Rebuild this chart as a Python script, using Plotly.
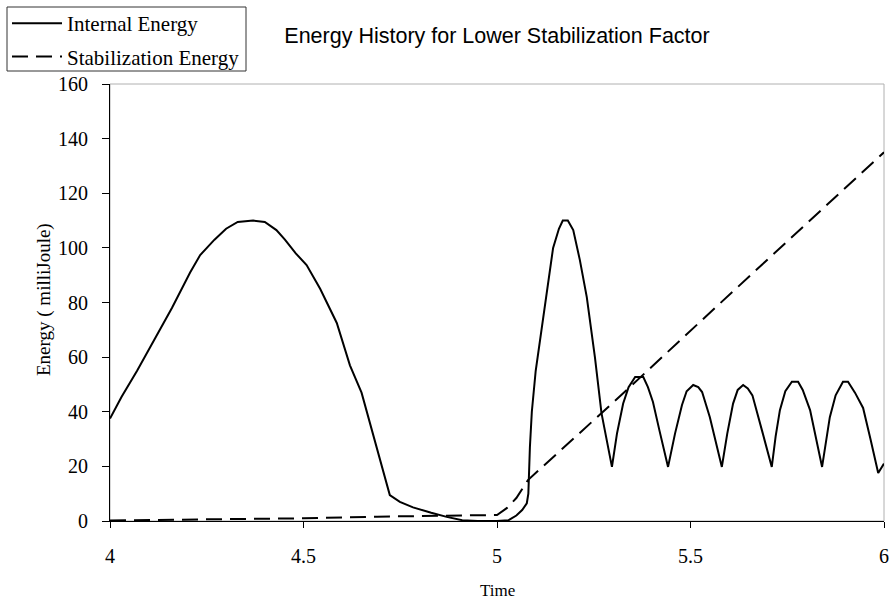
import plotly.graph_objects as go

# Internal energy (solid)
t_int = [4.00, 4.03, 4.07, 4.11, 4.16, 4.207, 4.233, 4.27, 4.30, 4.33, 4.37, 4.40,
         4.43, 4.452, 4.48, 4.508, 4.543, 4.586, 4.62, 4.65, 4.68, 4.693, 4.711,
         4.723, 4.749, 4.783, 4.83, 4.87, 4.91, 4.95, 5.00, 5.03, 5.05, 5.065,
         5.077, 5.081, 5.085, 5.09, 5.10, 5.11, 5.124, 5.145, 5.16, 5.17, 5.183,
         5.197, 5.214, 5.232, 5.253, 5.27, 5.297,
         5.31, 5.326, 5.34, 5.357, 5.378, 5.39, 5.403, 5.42, 5.442,
         5.46, 5.478, 5.49, 5.507, 5.52, 5.53, 5.55, 5.581,
         5.595, 5.61, 5.622, 5.636, 5.648, 5.66, 5.685, 5.71,
         5.72, 5.731, 5.745, 5.762, 5.778, 5.79, 5.809, 5.825, 5.84,
         5.86, 5.875, 5.894, 5.907, 5.925, 5.946, 5.965, 5.985, 6.0]
e_int = [37.5, 45.5, 55, 65, 78, 91, 97.4, 103, 107, 109.5, 110, 109.5,
         106.5, 103, 98, 93.7, 85, 72.5, 57, 47, 32, 25, 16,
         9.5, 7, 5, 3, 1.5, 0.3, 0, 0, 0.3, 2, 4,
         6.5, 10, 27, 40, 55, 65, 80, 100, 107, 110, 110,
         106.5, 95.6, 82, 60, 39.5, 19.8,
         32, 43, 49, 52.7, 52.7, 49, 43.6, 33, 19.8,
         32, 42.5, 47.5, 49.8, 49, 47.2, 38, 19.8,
         32, 43, 48, 49.8, 48.5, 46, 33, 19.8,
         31, 40.6, 47.5, 51, 51, 48, 40.6, 30, 19.8,
         38, 46, 51, 51, 47, 41.4, 30, 17.6, 21]

# Stabilization energy (dashed)
t_stab = [4.0, 4.25, 4.5, 4.69, 4.85, 5.0, 5.026, 5.05, 5.08, 5.2, 5.305, 5.568, 6.0]
e_stab = [0.2, 0.5, 1.0, 1.6, 1.9, 2.2, 4.8, 8.4, 15, 30.5, 44, 78.6, 135]

x_ticks = [4, 4.5, 5, 5.5, 6]
y_ticks = [0, 20, 40, 60, 80, 100, 120, 140, 160]

serif = "Liberation Serif, Times New Roman, serif"
sans = "Liberation Sans, Arial, sans-serif"

W, H = 890, 606
L, R, T, B = 110, 6, 84, 85
PW, PH = W - L - R, H - T - B


def px_x(p):
    return (p - L) / PW


def px_y(p):
    return (H - B - p) / PH


fig = go.Figure()
fig.add_trace(go.Scatter(x=t_int, y=e_int, mode="lines", name="Internal Energy",
                         legendgroup="a",
                         line=dict(color="black", width=2)))
fig.add_trace(go.Scatter(x=t_stab, y=e_stab, mode="lines", name="Stabilization Energy",
                         legendgroup="b",
                         line=dict(color="black", width=2, dash="16px,8px")))

# plot frame (light grey top/right) and legend frame
fig.add_shape(type="rect", xref="paper", yref="paper", x0=0, y0=0, x1=1, y1=1,
              line=dict(color="#b0b0b0", width=1), layer="below")
fig.add_shape(type="rect", xref="paper", yref="paper",
              x0=px_x(7), x1=px_x(246), y0=px_y(71), y1=px_y(7),
              line=dict(color="#333333", width=1), fillcolor="white", layer="below")

fig.update_layout(
    width=W, height=H,
    margin=dict(l=L, r=R, t=T, b=B, autoexpand=False),
    paper_bgcolor="white", plot_bgcolor="white",
    title=dict(text="Energy History for Lower Stabilization Factor",
               font=dict(family=sans, size=21.5, color="black"),
               x=0.5, xref="paper", xanchor="center",
               y=1 - 35 / H, yref="container", yanchor="middle"),
    legend=dict(xref="container", yref="container", x=7 / W, y=1 - 3 / H,
                xanchor="left", yanchor="top",
                borderwidth=0, bgcolor="rgba(0,0,0,0)",
                font=dict(family=serif, size=21, color="black"),
                tracegroupgap=3, itemwidth=50),
    showlegend=True,
    annotations=[
        dict(text="Time", xref="paper", yref="paper", x=0.5, y=px_y(590),
             xanchor="center", yanchor="middle", showarrow=False,
             font=dict(family=serif, size=17, color="black")),
        dict(text="Energy ( milliJoule)", xref="paper", yref="paper",
             x=px_x(44), y=px_y(300), textangle=-90,
             xanchor="center", yanchor="middle", showarrow=False,
             font=dict(family=serif, size=19, color="black")),
    ],
)

fig.update_xaxes(range=[4, 6], tickvals=x_ticks, ticktext=[str(v) for v in x_ticks],
                 showgrid=False, zeroline=False, showline=True, linecolor="black",
                 linewidth=1, ticks="outside", ticklen=6, tickcolor="black",
                 ticklabelstandoff=11,
                 tickfont=dict(family=serif, size=20, color="black"))
fig.update_yaxes(range=[0, 160], tickvals=y_ticks, showgrid=False, zeroline=False,
                 showline=True, linecolor="black", linewidth=1, ticks="outside",
                 ticklen=7, tickcolor="black", ticklabelstandoff=10,
                 tickfont=dict(family=serif, size=20, color="black"))

fig.write_html("out.html")
